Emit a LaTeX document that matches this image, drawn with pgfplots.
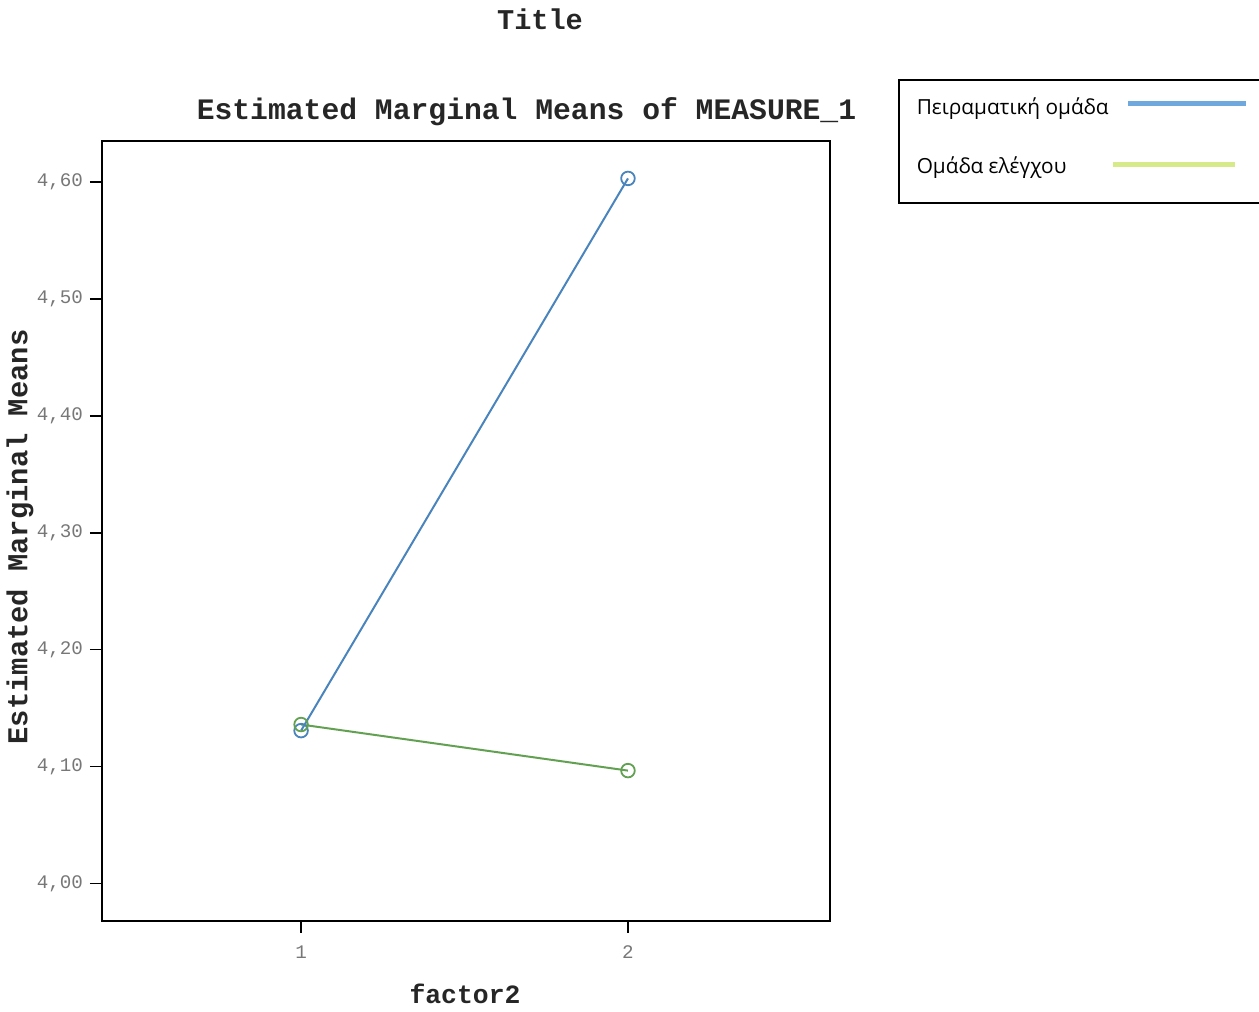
\documentclass[border=0pt]{standalone}
\usepackage{fontspec}
\setmainfont{Open Sans}
\setmonofont{Liberation Mono}
\newfontfamily\legfont{Open Sans}
\usepackage{pgfplots}
\pgfplotsset{compat=1.18}
\definecolor{lineblue}{HTML}{4A84BC}
\definecolor{linegreen}{HTML}{63A152}
\definecolor{legblue}{HTML}{6FA8DC}
\definecolor{leggreen}{HTML}{D6EA8A}
\definecolor{tickgray}{HTML}{777777}
\begin{document}
\begin{tikzpicture}
\useasboundingbox (0,0) rectangle (629.5pt,506pt);
\begin{axis}[
  at={(51pt,45.5pt)}, anchor=south west,
  scale only axis, width=364pt, height=390pt,
  xmin=0.391, xmax=2.618, ymin=3.968, ymax=4.635,
  xtick={1,2}, ytick={4,4.1,4.2,4.3,4.4,4.5,4.6},
  xtick pos=left, ytick pos=left,
  tick align=outside, major tick length=6pt,
  tick style={black, line width=0.8pt},
  axis line style={line width=0.8pt},
  yticklabel style={/pgf/number format/.cd, fixed, fixed zerofill, precision=2, use comma, assume math mode=true},
  xticklabel style={/pgf/number format/assume math mode=true, yshift=-3pt},
  ticklabel style={font=\fontsize{9.6}{11}\selectfont\ttfamily, text=tickgray},
  legend plot pos=right,
  legend cell align=left,
  legend style={at={(1.0934,1.0795)}, anchor=north west, draw=black, line width=0.8pt,
     inner xsep=7pt, inner ysep=7pt, row sep=15.5pt,
     font=\fontsize{10.4}{12.5}\selectfont\legfont},
]
\addlegendimage{legend image code/.code={\draw[legblue, line width=2.6pt] (0pt,2pt) -- (59pt,2pt);}}
\addlegendentry{\makebox[95pt][l]{Πειραματική ομάδα}}
\addlegendimage{legend image code/.code={\draw[leggreen, line width=2.6pt] (-7.5pt,1pt) -- (53.5pt,1pt); \path (0pt,-11pt);}}
\addlegendentry{\makebox[95pt][l]{Ομάδα ελέγχου}}
\addplot[lineblue, line width=1pt, mark=o, mark size=3.4pt, mark options={line width=0.9pt}] coordinates {(1,4.1308) (2,4.603)};
\addplot[linegreen, line width=1pt, mark=o, mark size=3.4pt, mark options={line width=0.9pt}] coordinates {(1,4.136) (2,4.0966)};
\end{axis}
\node[font=\fontsize{14.3}{16}\selectfont\ttfamily\bfseries, text=black!85] at (270pt,496.5pt) {Title};
\node[font=\fontsize{14.85}{17}\selectfont\ttfamily\bfseries, text=black!85] at (263.25pt,450pt) {Estimated Marginal Means of MEASURE\_1};
\node[font=\fontsize{14.4}{16}\selectfont\ttfamily\bfseries, text=black!85, rotate=90] at (10pt,237.5pt) {Estimated Marginal Means};
\node[font=\fontsize{13.2}{15}\selectfont\ttfamily\bfseries, text=black!85] at (232.5pt,9pt) {factor2};
\end{tikzpicture}
\end{document}
